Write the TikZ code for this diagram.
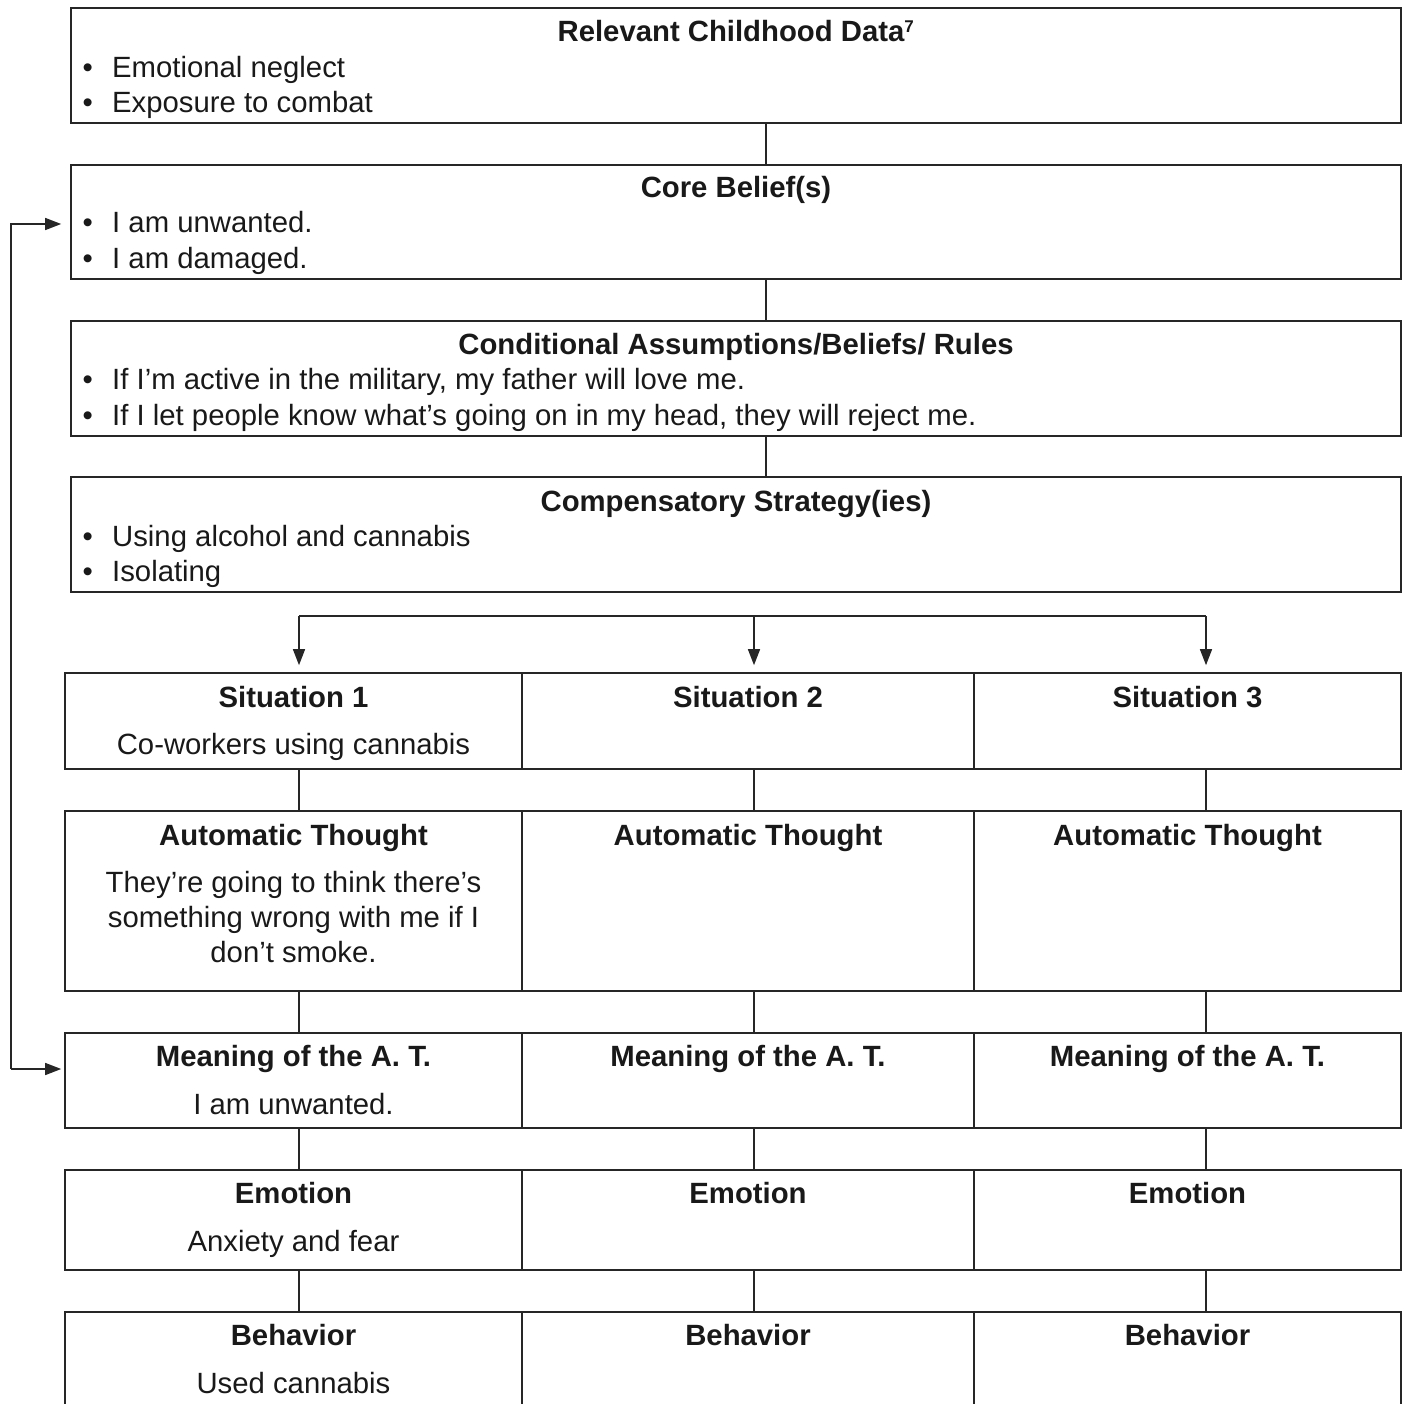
\documentclass[tikz,border=0pt]{standalone}
\usepackage{fontspec}
\setmainfont{Liberation Sans}
\usetikzlibrary{arrows.meta,calc}

\begin{document}
\begin{tikzpicture}[x=1pt,y=-1pt,
  box/.style={draw=black!85, line width=1.6pt, inner sep=0pt, anchor=center},
  link/.style={draw=black!85, line width=1.4pt},
  arr/.style={link, -{Triangle[length=16pt,width=12pt]}},
  txt/.style={anchor=base, inner sep=0pt, font=\fontsize{29.3}{35}\selectfont, text=black!90},
  hd/.style={txt, font=\fontsize{29.3}{35}\selectfont\bfseries},
  item/.style={txt, anchor=base west},
]
\clip (0,0) rectangle (1408,1404);

% ---- stacked belief boxes ----
\node[box, minimum width=1330pt, minimum height=115pt] (b1) at (736,65.5) {};
\node[box, minimum width=1330pt, minimum height=114pt] (b2) at (736,222) {};
\node[box, minimum width=1330pt, minimum height=115pt] (b3) at (736,378.5) {};
\node[box, minimum width=1330pt, minimum height=115pt] (b4) at (736,534.5) {};

\newcommand{\bl}{\makebox[29.5pt][l]{\textbullet}}

\node[hd] (b1h) at (736,42) {Relevant Childhood Data\textsuperscript{\fontsize{17}{17}\selectfont 7}};
\node[item] (b1a) at (82.5,78) {\bl Emotional neglect};
\node[item] (b1b) at (82.5,113) {\bl Exposure to combat};

\node[hd] (b2h) at (736,198) {Core Belief(s)};
\node[item] (b2a) at (82.5,233) {\bl I am unwanted.};
\node[item] (b2b) at (82.5,269) {\bl I am damaged.};

\node[hd] (b3h) at (736,355) {Conditional Assumptions/Beliefs/ Rules};
\node[item] (b3a) at (82.5,390) {\bl If I’m active in the military, my father will love me.};
\node[item] (b3b) at (82.5,425) {\bl If I let people know what’s going on in my head, they will reject me.};

\node[hd] (b4h) at (736,511) {Compensatory Strategy(ies)};
\node[item] (b4a) at (82.5,546) {\bl Using alcohol and cannabis};
\node[item] (b4b) at (82.5,581) {\bl Isolating};

\coordinate (spine) at (766,0);
\draw[link] (b1.south -| spine) -- (b2.north -| spine);
\draw[link] (b2.south -| spine) -- (b3.north -| spine);
\draw[link] (b3.south -| spine) -- (b4.north -| spine);

% ---- three-column grid ----
% columns: 65-522, 522-974, 974-1401
\foreach \r/\cy/\h in {s/721/96, t/901/180, m/1080.5/95, e/1220/100, v/1367/110}{
  \node[box, minimum width=457pt, minimum height=\h pt] (\r1) at (293.5,\cy) {};
  \node[box, minimum width=452pt, minimum height=\h pt] (\r2) at (748,\cy) {};
  \node[box, minimum width=427pt, minimum height=\h pt] (\r3) at (1187.5,\cy) {};
}

% situation row
\node[hd] (s1h) at (293.5,707) {Situation 1};
\node[hd] (s2h) at (748,707) {Situation 2};
\node[hd] (s3h) at (1187.5,707) {Situation 3};
\node[txt] (s1x) at (293.5,754) {Co-workers using cannabis};

% automatic thought row
\node[hd] (t1h) at (293.5,845) {Automatic Thought};
\node[hd] (t2h) at (748,845) {Automatic Thought};
\node[hd] (t3h) at (1187.5,845) {Automatic Thought};
\node[txt] (t1x) at (293.5,892) {They’re going to think there’s};
\node[txt] (t1y) at (293.5,927) {something wrong with me if I};
\node[txt] (t1z) at (293.5,962) {don’t smoke.};

% meaning row
\node[hd] (m1h) at (293.5,1066) {Meaning of the A. T.};
\node[hd] (m2h) at (748,1066) {Meaning of the A. T.};
\node[hd] (m3h) at (1187.5,1066) {Meaning of the A. T.};
\node[txt] (m1x) at (293.5,1114) {I am unwanted.};

% emotion row
\node[hd] (e1h) at (293.5,1203) {Emotion};
\node[hd] (e2h) at (748,1203) {Emotion};
\node[hd] (e3h) at (1187.5,1203) {Emotion};
\node[txt] (e1x) at (293.5,1251) {Anxiety and fear};

% behavior row
\node[hd] (v1h) at (293.5,1345) {Behavior};
\node[hd] (v2h) at (748,1345) {Behavior};
\node[hd] (v3h) at (1187.5,1345) {Behavior};
\node[txt] (v1x) at (293.5,1393) {Used cannabis};

% branch from the strategies into the three situations
\coordinate (c1) at (299,616);
\coordinate (c2) at (754,616);
\coordinate (c3) at (1206,616);
\draw[link] (c1) -- (c3);
\draw[arr, shorten >=7pt] (c1) -- (s1.north -| c1);
\draw[arr, shorten >=7pt] (c2) -- (s2.north -| c2);
\draw[arr, shorten >=7pt] (c3) -- (s3.north -| c3);

% vertical links down each column
\foreach \a/\b in {s/t, t/m, m/e, e/v}{
  \draw[link] (\a1.south -| c1) -- (\b1.north -| c1);
  \draw[link] (\a2.south -| c2) -- (\b2.north -| c2);
  \draw[link] (\a3.south -| c3) -- (\b3.north -| c3);
}

% feedback loop from the meaning back to the core belief
\coordinate (fbtop) at (11,224);
\coordinate (fbbot) at (11,1069);
\draw[arr] (fbbot) -- (fbtop) -- ([xshift=-9pt]fbtop -| b2.west);
\draw[arr] (fbbot) -- ([xshift=-3pt]fbbot -| m1.west);
\end{tikzpicture}
\end{document}
